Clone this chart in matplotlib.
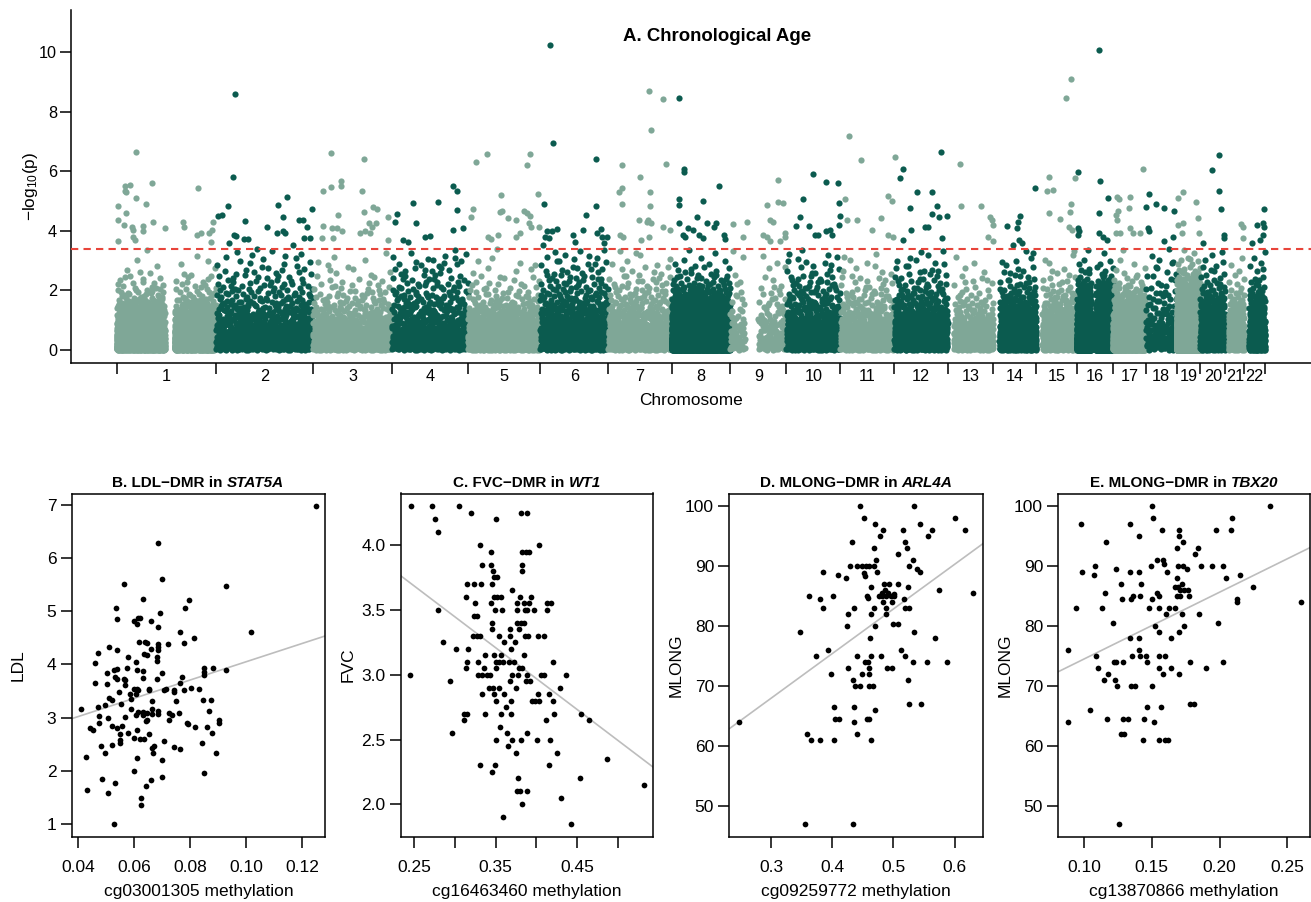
import numpy as np
import matplotlib
matplotlib.use("Agg")
import matplotlib.pyplot as plt
from matplotlib.ticker import FixedLocator, NullFormatter, FixedFormatter

plt.rcParams['font.family'] = ['Liberation Sans', 'DejaVu Sans']
plt.rcParams['mathtext.fontset'] = 'custom'
plt.rcParams['mathtext.rm'] = 'Liberation Sans'
plt.rcParams['mathtext.it'] = 'Liberation Sans:italic'
plt.rcParams['mathtext.bf'] = 'Liberation Sans:bold'
plt.rcParams['mathtext.default'] = 'regular'

# ---------------- Panel A data ----------------
chrom_names = [str(i) for i in range(1, 23)]
chrom_len_mb = [249.25, 243.20, 198.02, 191.15, 180.92, 171.12, 159.14, 146.36, 141.21,
                135.53, 135.01, 133.85, 115.17, 107.35, 102.53, 90.35, 81.20, 78.08,
                59.13, 63.03, 48.13, 51.30]
threshold = 3.39

# background mass per chromosome (count, spread of -log10 p, first covered Mb)
bg_n = [3264, 700, 700, 550, 938, 650, 600, 3920, 250, 550, 520,
        650, 300, 692, 448, 3708, 1652, 150, 4000, 480, 240, 540]
bg_lambda = [1.1, 2.1, 1.5, 2.3, 1.32, 2.1, 1.75, 1.1, 2.0, 1.95, 1.6,
             1.8, 1.6, 1.5, 1.54, 1.1, 1.1, 2.6, 1.1, 1.6, 1.5, 1.32]
bg_start_mb = [0, 0, 0, 0, 0, 0, 0, 0, 0, 0, 0, 0, 15, 15, 15, 0, 0, 0, 0, 0, 8, 12]
gap_chr = [1, 9, 16]
gap_start_mb = [121, 37, 35]
gap_end_mb = [145, 70, 46.5]

# individually visible top hits: chromosome, genome-wide position (Mb), -log10(p)
top_chr = ([1] * 30 + [2] * 25 + [3] * 25 + [4] * 14 + [5] * 23 + [6] * 20 + [7] * 21 +
           [8] * 20 + [9] * 15 + [10] * 15 + [11] * 12 + [12] * 15 + [13] * 8 + [14] * 8 +
           [15] * 12 + [16] * 11 + [17] * 13 + [18] * 9 + [19] * 8 + [20] * 7 + [21] * 3 + [22] * 7)
top_pos = [
    48.4, 20.8, 33.4, 23.3, 20.8, 87.8, 204.7, 47.7, 4.0, 72.8, 23.3, 4.0, 18.3, 37.6, 40.1,
    65.2, 65.2, 91.8, 121.2, 165.6, 168.9, 4.0, 41.6, 45.2, 200.7, 210.8, 239.1, 242.4, 232.3, 236.6,
    297.6, 291.0, 280.0, 254.9, 263.4, 321.9, 294.3, 299.3, 319.4, 330.2, 282.5, 376.4, 404.0,
    426.5, 416.5, 401.4, 418.0, 422.3, 458.1, 468.2, 476.7, 489.3, 469.9, 485.0, 443.1,
    536.9, 621.2, 562.0, 562.0, 536.9, 516.9, 616.2, 642.3, 653.9, 621.2, 556.0, 516.9, 539.4,
    552.0, 566.0, 681.5, 633.8, 639.8, 650.6, 610.4, 623.0, 635.5, 543.4, 514.3, 681.5,
    704.0, 698.3, 742.7, 751.7, 805.4, 773.5, 786.1, 719.1, 731.6, 843.0, 853.1, 853.1, 843.0, 869.6,
    900.7, 929.8, 1037.0, 1028.7, 964.2, 1057.8, 894.7, 961.7, 966.0, 982.5, 1001.8, 1022.7,
    1028.7, 1037.0, 888.2, 932.3, 938.4, 957.4, 1011.9, 1035.2, 1038.7, 1001.8, 1059.0,
    1087.2, 1093.9, 1202.6, 1072.9, 1202.6, 1177.5, 1078.9, 1091.4, 1104.0, 1074.6, 1085.4,
    1145.6, 1170.7, 1204.3, 1214.4, 1216.9, 1231.0, 1070.4, 1149.9, 1222.6,
    1336.3, 1371.4, 1340.6, 1267.0, 1378.2, 1313.0, 1261.0, 1267.0, 1338.1, 1267.0, 1338.1,
    1311.2, 1333.8, 1339.8, 1331.3, 1262.8, 1271.1, 1336.3, 1371.4, 1314.7, 1388.2,
    1411.6, 1423.4, 1423.4, 1510.4, 1411.6, 1411.6, 1471.8, 1455.2, 1480.3, 1503.6, 1498.6,
    1411.6, 1434.1, 1445.2, 1421.6, 1425.9, 1461.7, 1471.8, 1524.5, 1525.5,
    1660.0, 1632.4, 1660.0, 1672.5, 1547.1, 1582.2, 1639.1, 1647.4, 1622.3, 1630.9, 1639.1,
    1677.0, 1676.0, 1570.6, 1664.2,
    1747.8, 1779.6, 1810.5, 1722.7, 1813.0, 1714.4, 1703.6, 1737.7, 1752.0, 1760.3, 1779.6,
    1789.7, 1793.9, 1814.0, 1812.0,
    1838.1, 1868.2, 1827.3, 1831.6, 1856.7, 1952.8, 1936.0, 1946.0, 1917.6, 1894.3, 1936.0, 1948.5,
    2067.4, 1973.6, 1965.3, 2007.2, 2046.3, 1990.4, 2058.9, 2063.2, 2084.0, 2046.3, 1992.1,
    2028.0, 2036.3, 1973.6, 2069.9,
    2115.8, 2117.6, 2169.3, 2191.1, 2196.4, 2197.9, 2186.8, 2198.7,
    2303.3, 2233.0, 2266.4, 2262.1, 2258.1, 2264.6, 2270.6, 2249.6,
    2393.6, 2382.5, 2339.9, 2334.9, 2349.9, 2405.6, 2339.9, 2391.8, 2393.6, 2366.7, 2389.3, 2396.1,
    2465.3, 2412.7, 2467.1, 2488.0, 2465.3, 2412.7, 2415.2, 2412.7, 2465.3, 2473.9, 2483.9,
    2574.2, 2509.0, 2515.5, 2542.4, 2540.6, 2511.5, 2507.2, 2509.0, 2507.2, 2517.3, 2542.4,
    2549.1, 2567.5,
    2590.0, 2607.6, 2628.4, 2583.8, 2588.3, 2590.0, 2628.4, 2652.8, 2651.0,
    2674.6, 2663.6, 2708.0, 2712.2, 2676.1, 2661.8, 2672.1, 2716.0,
    2766.4, 2747.4, 2766.4, 2770.7, 2779.2, 2779.2, 2724.8,
    2820.9, 2825.1, 2826.6,
    2879.1, 2860.3, 2876.8, 2878.3, 2876.8, 2868.5, 2847.7]
top_logp = [
    6.65, 5.52, 5.54, 5.29, 5.35, 5.62, 5.45, 5.10, 4.82, 4.90, 4.61, 4.37, 4.20, 4.14, 4.03,
    4.17, 4.00, 4.29, 4.09, 4.29, 4.12, 3.66, 3.81, 3.70, 3.86, 3.92, 4.03, 4.31, 3.92, 3.64,
    8.59, 5.80, 4.82, 4.50, 4.54, 4.33, 3.86, 3.83, 3.72, 3.72, 3.58, 4.14, 4.87,
    5.15, 4.46, 3.92, 3.98, 3.92, 4.37, 4.37, 4.14, 4.74, 3.77, 3.77, 3.53,
    6.61, 6.41, 5.66, 5.51, 5.49, 5.35, 5.35, 4.79, 4.73, 4.62, 4.54, 4.17, 4.09,
    4.11, 3.98, 4.48, 4.28, 4.14, 4.28, 3.92, 4.00, 3.92, 3.75, 3.75, 3.70,
    4.57, 4.31, 4.93, 4.28, 4.96, 3.81, 3.83, 3.70, 3.64, 5.52, 5.35, 4.70, 4.03, 4.09,
    6.30, 6.58, 6.58, 6.21, 5.21, 5.23, 4.73, 4.65, 4.68, 4.45, 4.35, 4.68,
    4.59, 4.50, 4.48, 3.81, 3.72, 3.86, 3.92, 4.26, 4.14, 3.81, 4.14,
    10.25, 6.94, 6.43, 4.90, 4.85, 4.54, 3.98, 4.01, 4.05, 3.81, 3.75,
    3.86, 4.03, 3.92, 4.05, 3.81, 3.79, 3.53, 3.64, 3.58,
    8.71, 8.43, 7.39, 6.21, 6.24, 5.82, 5.29, 5.43, 5.32, 4.90, 4.84,
    4.37, 4.37, 4.28, 4.31, 3.86, 3.79, 3.79, 4.14, 3.70, 4.03,
    8.48, 6.07, 5.99, 5.52, 5.07, 4.87, 5.01, 4.48, 4.28, 4.28, 4.14,
    4.28, 4.09, 4.03, 3.86, 3.79, 3.86, 3.75, 3.86, 3.72,
    5.70, 4.86, 4.98, 4.95, 4.23, 4.31, 4.37, 4.31, 3.86, 3.79, 3.67,
    3.92, 3.79, 3.79, 3.67,
    5.90, 5.63, 5.60, 5.07, 4.95, 4.46, 4.18, 4.18, 3.86, 3.86, 3.98,
    4.03, 3.86, 4.50, 4.20,
    7.19, 6.37, 5.07, 4.37, 4.37, 6.49, 5.17, 5.01, 4.45, 4.03, 3.86, 3.81,
    6.65, 6.07, 5.77, 5.29, 5.32, 4.78, 4.85, 4.48, 4.50, 4.56, 4.03,
    4.14, 4.12, 3.70, 3.77,
    6.25, 4.84, 4.84, 4.48, 4.37, 4.20, 3.81, 3.67,
    5.43, 4.18, 4.50, 4.31, 4.09, 3.70, 3.58, 3.53,
    9.09, 8.48, 5.82, 5.34, 5.38, 5.77, 4.61, 4.62, 4.90, 4.40, 4.14, 4.03,
    10.06, 5.97, 5.66, 5.12, 4.61, 4.11, 3.98, 3.86, 3.92, 3.79, 3.70,
    6.07, 5.15, 5.06, 5.13, 4.76, 4.67, 4.54, 4.37, 3.94, 3.94, 4.11,
    3.92, 3.94,
    5.24, 4.89, 4.78, 4.79, 4.09, 3.98, 3.67, 4.67, 3.79,
    5.32, 5.10, 4.98, 4.42, 4.26, 4.20, 3.92, 3.92,
    6.54, 6.04, 5.35, 4.74, 3.86, 3.75, 3.58,
    4.22, 4.14, 3.75,
    4.73, 4.19, 4.26, 4.14, 3.86, 3.70, 3.58]

# ---------------- Panels B-E data ----------------
b_x = [0.1249, 0.0685, 0.0700, 0.0566, 0.0930, 0.0633, 0.0798, 0.0534, 0.0784, 0.0693, 0.0541, 0.0599,
       0.0613, 0.0622, 0.0610, 0.0660, 0.0686, 0.1017, 0.0765, 0.0814, 0.0618, 0.0640, 0.0648, 0.0777,
       0.0722, 0.0685, 0.0685, 0.0685, 0.0512, 0.0541, 0.0660, 0.0637, 0.0646, 0.0473, 0.0577, 0.0681,
       0.0681, 0.0459, 0.0607, 0.0849, 0.0849, 0.0849, 0.0883, 0.0929, 0.0527, 0.0541, 0.0575, 0.0611,
       0.0634, 0.0700, 0.0503, 0.0533, 0.0541, 0.0563, 0.0569, 0.0632, 0.0681, 0.0770, 0.0460, 0.0503,
       0.0569, 0.0610, 0.0652, 0.0652, 0.0706, 0.0714, 0.0742, 0.0742, 0.0766, 0.0834, 0.0805, 0.0545,
       0.0599, 0.0616, 0.0587, 0.0606, 0.0780, 0.0509, 0.0523, 0.0553, 0.0589, 0.0664, 0.0749, 0.0845,
       0.0874, 0.0411, 0.0471, 0.0495, 0.0590, 0.0616, 0.0634, 0.0646, 0.0664, 0.0687, 0.0687, 0.0664,
       0.0726, 0.0761, 0.0869, 0.0475, 0.0506, 0.0567, 0.0606, 0.0631, 0.0646, 0.0643, 0.0725, 0.0736,
       0.0474, 0.0520, 0.0539, 0.0558, 0.0549, 0.0579, 0.0610, 0.0652, 0.0790, 0.0792, 0.0818, 0.0860,
       0.0878, 0.0903, 0.0905, 0.0444, 0.0455, 0.0550, 0.0550, 0.0523, 0.0601, 0.0622, 0.0637, 0.0707,
       0.0671, 0.0666, 0.0742, 0.0765, 0.0483, 0.0497, 0.0667, 0.0844, 0.0894, 0.0429, 0.0610, 0.0700,
       0.0601, 0.0849, 0.0486, 0.0700, 0.0662, 0.0532, 0.0644, 0.0433, 0.0508, 0.0626, 0.0626, 0.0527]
b_y = [6.98, 6.29, 5.60, 5.52, 5.47, 5.23, 5.21, 5.07, 5.07, 4.96, 4.86, 4.82,
       4.88, 4.87, 4.76, 4.82, 4.70, 4.61, 4.62, 4.49, 4.42, 4.43, 4.41, 4.41,
       4.39, 4.39, 4.33, 4.27, 4.32, 4.27, 4.29, 4.20, 4.18, 4.22, 4.15, 4.14,
       4.07, 4.03, 4.05, 3.93, 3.86, 3.80, 3.93, 3.90, 3.90, 3.92, 3.94, 3.90,
       3.88, 3.83, 3.83, 3.76, 3.73, 3.73, 3.70, 3.74, 3.73, 3.76, 3.66, 3.64,
       3.61, 3.53, 3.54, 3.51, 3.51, 3.54, 3.52, 3.48, 3.66, 3.54, 3.56, 3.48,
       3.53, 3.51, 3.45, 3.45, 3.51, 3.37, 3.34, 3.25, 3.35, 3.32, 3.32, 3.34,
       3.34, 3.17, 3.20, 3.23, 3.17, 3.11, 3.10, 3.09, 3.17, 3.12, 3.07, 3.07,
       3.09, 3.09, 3.12, 3.03, 3.00, 3.01, 3.04, 3.04, 2.96, 2.93, 2.96, 3.04,
       2.90, 2.85, 2.81, 2.85, 2.70, 2.71, 2.76, 2.70, 2.90, 2.87, 2.83, 2.83,
       2.71, 2.95, 2.90, 2.81, 2.77, 2.58, 2.53, 2.49, 2.61, 2.60, 2.60, 2.55,
       2.47, 2.42, 2.44, 2.40, 2.46, 2.33, 2.34, 2.53, 2.34, 2.26, 2.24, 2.21,
       1.99, 1.95, 1.84, 1.89, 1.82, 1.77, 1.72, 1.63, 1.58, 1.48, 1.35, 1.00]
b_fit = (2.33, 17.2)   # intercept, slope

c_x = [0.2459, 0.2717, 0.3051, 0.2753, 0.2798, 0.3194, 0.3500, 0.3807, 0.3889, 0.3309, 0.4036, 0.3440,
       0.3828, 0.3877, 0.3909, 0.3337, 0.3440, 0.3828, 0.3828, 0.3472, 0.3480, 0.3513, 0.3154, 0.3235,
       0.3317, 0.3460, 0.3697, 0.3133, 0.3480, 0.3521, 0.3562, 0.3795, 0.3938, 0.2794, 0.3243, 0.3440,
       0.3493, 0.3574, 0.3766, 0.3848, 0.3766, 0.3860, 0.3889, 0.3971, 0.3909, 0.4134, 0.4175, 0.4134,
       0.3235, 0.3276, 0.3460, 0.3766, 0.3807, 0.3848, 0.3460, 0.3676, 0.3787, 0.3227, 0.3276, 0.3305,
       0.3542, 0.3676, 0.3860, 0.3901, 0.4020, 0.4093, 0.2855, 0.3603, 0.3734, 0.3019, 0.3162, 0.3689,
       0.3370, 0.3480, 0.3570, 0.3848, 0.3154, 0.3289, 0.3500, 0.3542, 0.3595, 0.3664, 0.3725, 0.4207,
       0.3133, 0.3358, 0.3509, 0.3787, 0.3828, 0.2451, 0.3289, 0.3329, 0.3399, 0.3431, 0.3697, 0.3779,
       0.3881, 0.4060, 0.4093, 0.4363, 0.2941, 0.3672, 0.3869, 0.3917, 0.3423, 0.3472, 0.3542, 0.3750,
       0.4289, 0.3329, 0.3480, 0.3603, 0.4024, 0.4154, 0.3500, 0.3685, 0.3946, 0.3979, 0.4036, 0.4207,
       0.3632, 0.3113, 0.3154, 0.3366, 0.3570, 0.3685, 0.4216, 0.4551, 0.3109, 0.4118, 0.4649, 0.3550,
       0.2970, 0.3644, 0.3889, 0.3509, 0.3697, 0.3807, 0.4011, 0.4167, 0.3656, 0.3750, 0.4248, 0.3305,
       0.3493, 0.4154, 0.3460, 0.4869, 0.4534, 0.3779, 0.5319, 0.3766, 0.3799, 0.3889, 0.4297, 0.3828,
       0.3595, 0.4420]
c_y = [4.30, 4.30, 4.30, 4.20, 4.10, 4.25, 4.20, 4.25, 4.25, 4.00, 4.00, 3.95,
       3.95, 3.95, 3.95, 3.85, 3.85, 3.85, 3.80, 3.80, 3.75, 3.75, 3.70, 3.70,
       3.70, 3.70, 3.65, 3.60, 3.60, 3.60, 3.60, 3.60, 3.60, 3.50, 3.55, 3.55,
       3.50, 3.50, 3.55, 3.55, 3.50, 3.50, 3.50, 3.50, 3.55, 3.55, 3.55, 3.50,
       3.45, 3.45, 3.40, 3.40, 3.40, 3.40, 3.35, 3.35, 3.35, 3.30, 3.30, 3.30,
       3.30, 3.30, 3.30, 3.30, 3.30, 3.30, 3.25, 3.25, 3.25, 3.20, 3.20, 3.20,
       3.15, 3.15, 3.15, 3.15, 3.10, 3.10, 3.10, 3.10, 3.10, 3.10, 3.10, 3.10,
       3.05, 3.05, 3.05, 3.05, 3.05, 3.00, 3.00, 3.00, 3.00, 3.00, 3.00, 3.00,
       3.00, 3.00, 3.00, 3.00, 2.95, 2.95, 2.95, 2.95, 2.90, 2.90, 2.90, 2.90,
       2.90, 2.85, 2.85, 2.85, 2.85, 2.85, 2.80, 2.80, 2.80, 2.80, 2.80, 2.80,
       2.75, 2.70, 2.70, 2.70, 2.70, 2.70, 2.70, 2.70, 2.65, 2.65, 2.65, 2.60,
       2.55, 2.55, 2.55, 2.50, 2.50, 2.50, 2.50, 2.50, 2.45, 2.40, 2.40, 2.30,
       2.30, 2.30, 2.25, 2.35, 2.20, 2.20, 2.15, 2.10, 2.10, 2.10, 2.05, 2.00,
       1.90, 1.85]
c_fit = (4.878, -4.77)

d_x = [0.4451, 0.5335, 0.4517, 0.6000, 0.4691, 0.5433, 0.6170, 0.4828, 0.5150, 0.5635, 0.4773, 0.5564,
       0.4315, 0.5188, 0.5215, 0.4675, 0.5079, 0.4719, 0.5324, 0.4287, 0.4407, 0.4489, 0.4555, 0.4609,
       0.4680, 0.5253, 0.4517, 0.4528, 0.4724, 0.3857, 0.4097, 0.4222, 0.5390, 0.5433, 0.4844, 0.4926,
       0.5079, 0.4637, 0.5237, 0.4855, 0.4817, 0.4915, 0.5750, 0.6306, 0.3627, 0.4015, 0.4588, 0.4571,
       0.4762, 0.4817, 0.4877, 0.4953, 0.5008, 0.5008, 0.3797, 0.5171, 0.4833, 0.4980, 0.3857, 0.4353,
       0.4680, 0.4871, 0.5188, 0.5253, 0.4260, 0.4626, 0.4877, 0.4997, 0.5079, 0.4244, 0.4697, 0.3480,
       0.5335, 0.4615, 0.5673, 0.3927, 0.5117, 0.3742, 0.4407, 0.4626, 0.4800, 0.5188, 0.4528, 0.4582,
       0.5319, 0.5542, 0.5880, 0.4255, 0.4609, 0.4899, 0.4980, 0.3982, 0.4484, 0.4604, 0.4347, 0.5237,
       0.4380, 0.4462, 0.4604, 0.4669, 0.4037, 0.4353, 0.4691, 0.5253, 0.5444, 0.4053, 0.4108, 0.4571,
       0.4598, 0.4353, 0.2471, 0.4407, 0.3589, 0.3655, 0.3808, 0.4037, 0.4637, 0.3562, 0.4342]
d_y = [100, 100, 98, 98, 97, 97, 96, 96, 96, 96, 95, 95,
       94, 94, 93, 93, 92, 91, 91, 90, 90, 90, 90, 90,
       90, 90, 88.9, 88.3, 89, 89, 88.5, 88, 89.5, 89, 87, 87,
       87, 86.5, 86.5, 86, 85.5, 85.5, 86, 85.5, 85, 85, 84.6, 85,
       85, 85, 85, 85, 85, 85.4, 84.5, 84.5, 84, 84, 83, 83,
       83, 83, 83, 83, 82, 82, 82, 80.4, 80.4, 80, 80, 79,
       79, 78, 78, 76, 76, 75, 75, 75, 75, 75, 74, 74,
       74, 74, 74, 73, 73, 73, 73, 72, 72, 72, 71, 71,
       70, 70, 70, 70, 66.5, 66.5, 66, 67, 67, 64.5, 64.5, 64.5,
       64.5, 64, 64, 62, 62, 61, 61, 61, 61, 47, 47]
d_fit = (45.6, 74.5)

e_x = [0.1502, 0.2373, 0.1507, 0.2091, 0.0980, 0.1343, 0.1699, 0.1699, 0.1574, 0.1975, 0.2081, 0.1162,
       0.1733, 0.1409, 0.1689, 0.1843, 0.1821, 0.1539, 0.1581, 0.1593, 0.1081, 0.1495, 0.1696, 0.1728,
       0.1757, 0.1860, 0.1946, 0.2022, 0.0983, 0.1233, 0.1343, 0.1409, 0.1615, 0.1078, 0.2150, 0.1686,
       0.2049, 0.1275, 0.1424, 0.1723, 0.1669, 0.1691, 0.2243, 0.1711, 0.1735, 0.1765, 0.1159, 0.1542,
       0.1556, 0.1684, 0.1708, 0.1772, 0.1365, 0.1414, 0.1346, 0.1279, 0.1500, 0.2125, 0.2130, 0.2598,
       0.0944, 0.1135, 0.1478, 0.1551, 0.1625, 0.1674, 0.1605, 0.1723, 0.1846, 0.1213, 0.1988, 0.1527,
       0.1740, 0.1556, 0.1703, 0.1645, 0.1343, 0.1409, 0.0880, 0.1409, 0.1086, 0.1355, 0.1414, 0.1458,
       0.1551, 0.1598, 0.1225, 0.1238, 0.1287, 0.1463, 0.1782, 0.2022, 0.1105, 0.1556, 0.1642, 0.1900,
       0.1179, 0.1586, 0.1699, 0.1228, 0.1145, 0.1245, 0.1348, 0.1373, 0.1500, 0.1784, 0.1809, 0.1047,
       0.1463, 0.1571, 0.1167, 0.1287, 0.1324, 0.1444, 0.1515, 0.0880, 0.1272, 0.1294, 0.1434, 0.1556,
       0.1600, 0.1618, 0.1257]
e_y = [100, 100, 98, 98, 97, 97, 96, 95, 96, 96, 96, 94,
       94, 95, 93, 93, 92, 91, 91, 90.4, 90, 90, 90, 90,
       89.5, 90, 90, 90, 89, 89.5, 89, 89, 89, 88.5, 88.5, 88,
       88, 87, 87, 87, 86.5, 86.5, 86.5, 86, 86, 86, 85.5, 85.5,
       85, 85, 85, 85, 85, 85, 84.5, 84.5, 84.5, 84.5, 84, 84,
       83, 83, 83, 83, 83, 83, 82, 82, 82, 80.5, 80.5, 80,
       80, 79, 79, 78, 78, 78, 76, 76, 75, 75, 75, 75,
       75, 75, 74, 74, 74, 74, 74, 74, 73, 73, 73, 73,
       72, 72, 72, 71, 71, 70, 70, 70, 70, 67, 67, 66,
       66.5, 66.5, 64.5, 64.5, 64.5, 64.5, 64, 64, 62, 62, 61, 61,
       61, 61, 47]
e_fit = (63.33, 111.6)

# ---------------- styling ----------------
LIGHT = '#7fa797'
DARK = '#0b5b4f'
W, H = 1311, 902
fig = plt.figure(figsize=(W / 100, H / 100), dpi=100)


def px_rect(l, t, r, b):
    return [l / W, (H - b) / H, (r - l) / W, (b - t) / H]


def halton(idx, base):
    idx = np.asarray(idx, dtype=np.int64).copy()
    f = np.ones(idx.shape)
    r = np.zeros(idx.shape)
    while np.any(idx > 0):
        f = f / base
        r = r + f * (idx % base)
        idx = idx // base
    return r


# ---------------- Panel A ----------------
ax0 = fig.add_axes(px_rect(71, 10, 1311, 363))
starts = np.concatenate([[0], np.cumsum(chrom_len_mb)[:-1]])
ends = np.cumsum(chrom_len_mb)
for c in range(22):
    col = LIGHT if c % 2 == 0 else DARK
    n = bg_n[c]
    idx = np.arange(1, n + 1) + 37 * c
    lo = bg_start_mb[c]
    pos = lo + halton(idx, 2) * (chrom_len_mb[c] - lo)
    vals = -bg_lambda[c] * np.log10(halton(idx, 3))
    keep = vals < threshold
    for g, gs, ge in zip(gap_chr, gap_start_mb, gap_end_mb):
        if g == c + 1:
            keep &= ~((pos > gs) & (pos < ge))
    ax0.scatter(starts[c] + pos[keep], vals[keep], s=20, color=col, linewidths=0, zorder=2)
    tp = np.array([p for ch, p in zip(top_chr, top_pos) if ch == c + 1])
    tv = np.array([v for ch, v in zip(top_chr, top_logp) if ch == c + 1])
    ax0.scatter(tp, tv, s=20, color=col, linewidths=0, zorder=2)

ax0.axhline(threshold, color='#e8443a', lw=1.5, ls=(0, (3.5, 2.5)), zorder=3)
ax0.set_xlim(-114.7, 2996.6)
ax0.set_ylim(-0.437, 11.42)
for s in ['top', 'right']:
    ax0.spines[s].set_visible(False)
for s in ['left', 'bottom']:
    ax0.spines[s].set_linewidth(1.1)
ax0.set_yticks([0, 2, 4, 6, 8, 10])
ax0.tick_params(axis='y', length=8, width=1.1, labelsize=11.7, pad=2)
bounds = np.concatenate([starts, [ends[-1]]])
ax0.xaxis.set_major_locator(FixedLocator(bounds))
ax0.xaxis.set_major_formatter(NullFormatter())
ax0.xaxis.set_minor_locator(FixedLocator((starts + ends) / 2))
ax0.xaxis.set_minor_formatter(FixedFormatter(chrom_names))
ax0.tick_params(axis='x', which='major', length=8, width=1.1)
ax0.tick_params(axis='x', which='minor', length=0, labelsize=11.7, pad=4)
ax0.set_xlabel('Chromosome', fontsize=12.4)
ax0.xaxis.set_label_coords(0.5, -0.105)
ax0.xaxis.label.set_va('center')
ax0.set_ylabel('−log$_{10}$(p)', fontsize=12.4)
ax0.yaxis.set_label_coords(-0.033, 0.5)
ax0.yaxis.label.set_va('center')
ax0.text(0.521, 0.926, 'A. Chronological Age', transform=ax0.transAxes, ha='center', va='center',
         fontsize=13.4, fontweight='bold')

# ---------------- Panels B-E ----------------
panels = [
    dict(rect=(71.7, 493.5, 325, 836.5), x=b_x, y=b_y, fit=b_fit, prefix='B. LDL−DMR in', gene='STAT5A',
         xlabel='cg03001305 methylation', ylabel='LDL', xt=[0.04, 0.06, 0.08, 0.10, 0.12],
         xtl=['0.04', '0.06', '0.08', '0.10', '0.12'], yt=[1, 2, 3, 4, 5, 6, 7],
         ytl=['1', '2', '3', '4', '5', '6', '7']),
    dict(rect=(400.7, 493.5, 653.3, 836.5), x=c_x, y=c_y, fit=c_fit, prefix='C. FVC−DMR in', gene='WT1',
         xlabel='cg16463460 methylation', ylabel='FVC', xt=[0.25, 0.30, 0.35, 0.40, 0.45, 0.50],
         xtl=['0.25', '', '0.35', '', '0.45', ''], yt=[2.0, 2.5, 3.0, 3.5, 4.0],
         ytl=['2.0', '2.5', '3.0', '3.5', '4.0']),
    dict(rect=(729.3, 493.5, 982.7, 836.5), x=d_x, y=d_y, fit=d_fit, prefix='D. MLONG−DMR in', gene='ARL4A',
         xlabel='cg09259772 methylation', ylabel='MLONG', xt=[0.3, 0.4, 0.5, 0.6],
         xtl=['0.3', '0.4', '0.5', '0.6'], yt=[50, 60, 70, 80, 90, 100],
         ytl=['50', '60', '70', '80', '90', '100']),
    dict(rect=(1058.3, 493.5, 1310, 836.5), x=e_x, y=e_y, fit=e_fit, prefix='E. MLONG−DMR in', gene='TBX20',
         xlabel='cg13870866 methylation', ylabel='MLONG', xt=[0.10, 0.15, 0.20, 0.25],
         xtl=['0.10', '0.15', '0.20', '0.25'], yt=[50, 60, 70, 80, 90, 100],
         ytl=['50', '60', '70', '80', '90', '100']),
]

TSIZE = 11
titles = []
for p in panels:
    ax = fig.add_axes(px_rect(*p['rect']))
    ax.scatter(p['x'], p['y'], s=17, color='black', linewidths=0, zorder=3)
    ax.margins(0.04)
    ax.autoscale_view()
    xl, yl = ax.get_xlim(), ax.get_ylim()
    a, b = p['fit']
    xm = float(np.mean(p['x']))
    ax.axline((xm, a + b * xm), slope=b, color='#bdbdbd', lw=1.2, zorder=2)
    ax.set_xlim(xl)
    ax.set_ylim(yl)
    ax.set_xticks(p['xt'])
    ax.set_xticklabels(p['xtl'])
    ax.set_yticks(p['yt'])
    ax.set_yticklabels(p['ytl'])
    ax.tick_params(axis='both', length=8, width=1.1, labelsize=12.5)
    ax.tick_params(axis='x', pad=9)
    ax.tick_params(axis='y', pad=3)
    for s in ax.spines.values():
        s.set_linewidth(1.1)
    ax.set_xlabel(p['xlabel'], fontsize=12.5)
    ax.xaxis.set_label_coords(0.5, -0.161)
    ax.xaxis.label.set_va('center')
    ax.set_ylabel(p['ylabel'], fontsize=12.5)
    ax.yaxis.set_label_coords(-0.21, 0.5)
    ax.yaxis.label.set_va('center')
    t1 = ax.text(0.5, 1.031, p['prefix'], transform=ax.transAxes, ha='left', va='center',
                 fontsize=TSIZE, fontweight='bold')
    t2 = ax.text(0.5, 1.031, p['gene'], transform=ax.transAxes, ha='left', va='center',
                 fontsize=TSIZE, fontweight='bold', fontstyle='italic')
    titles.append((ax, t1, t2))

fig.canvas.draw()
r = fig.canvas.get_renderer()
space = 0.278 * TSIZE * 100 / 72
for ax, t1, t2 in titles:
    w1 = t1.get_window_extent(r).width
    w2 = t2.get_window_extent(r).width
    axw = ax.get_window_extent(r).width
    total = w1 + space + w2
    x1 = 0.5 - total / 2 / axw
    t1.set_x(x1)
    t2.set_x(x1 + (w1 + space) / axw)

fig.savefig('out.png', dpi=100)
